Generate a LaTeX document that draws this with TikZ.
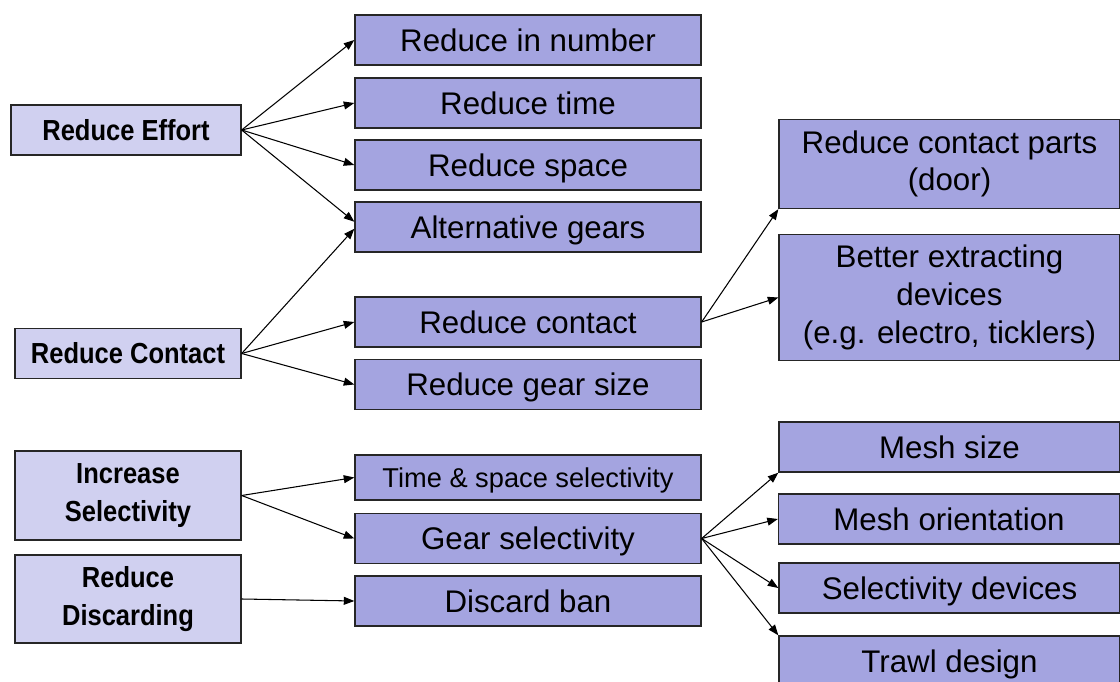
\documentclass[tikz,border=0pt]{standalone}
\usepackage{fontspec}
\setmainfont{Liberation Sans}
\newfontfamily\goalfont[FakeStretch=0.88]{Liberation Sans}
\usetikzlibrary{arrows.meta}
\definecolor{goalfill}{RGB}{208,208,240}
\definecolor{measurefill}{RGB}{164,164,224}
\tikzset{
  goal/.style={draw=black!85, line width=0.8pt, fill=goalfill, inner sep=0pt,
    minimum width=4.52cm, minimum height=1cm, align=center,
    text height=11.8pt, text depth=0pt,
    font=\goalfont\fontsize{16.5}{21.5}\selectfont\bfseries},
  measure/.style={draw=black!85, line width=0.8pt, fill=measurefill, inner sep=0pt,
    minimum width=6.92cm, minimum height=1cm, align=center,
    text height=12.7pt, text depth=0pt,
    font=\fontsize{17.8}{21.5}\selectfont},
  detail/.style={measure, minimum width=6.82cm},
  multiline/.style={text height={}, text depth={}},
  link/.style={-{Triangle[length=6pt,width=4.5pt]}, line width=0.6pt}
}
\begin{document}
\begin{tikzpicture}[x=0.02cm, y=-0.02cm]
\useasboundingbox (0,0) rectangle (1120,682);

\node[goal, minimum width=4.6cm] (effort) at (126,130) {Reduce Effort};
\node[goal] (contact) at (128,353.5) {Reduce Contact};
\node[goal, multiline, minimum height=1.78cm] (incsel) at (128,495.5) {Increase\\Selectivity};
\node[goal, multiline, minimum height=1.76cm] (discard) at (128,599) {Reduce\\Discarding};

\node[measure] (number) at (528,40) {Reduce in number};
\node[measure] (time) at (528,103) {Reduce time};
\node[measure] (space) at (528,165) {Reduce space};
\node[measure] (altgear) at (528,227) {Alternative gears};
\node[measure] (redcon) at (528,322) {Reduce contact};
\node[measure] (gearsize) at (528,384.5) {Reduce gear size};
\node[measure, minimum height=0.9cm, text height=11pt, font=\fontsize{15.5}{19}\selectfont] (tssel) at (528,477.5) {Time \& space selectivity};
\node[measure] (gearsel) at (528,538.5) {Gear selectivity};
\node[measure] (ban) at (528,601) {Discard ban};

\node[detail, multiline, minimum height=1.78cm] (parts) at (949.5,164) {Reduce contact parts\\(door)};
\node[detail, multiline, minimum height=2.52cm] (extract) at (949.5,297.5) {Better extracting\\devices\\(e.g. electro, ticklers)};
\node[detail] (meshsize) at (949.5,447) {Mesh size};
\node[detail] (meshorient) at (949,519) {Mesh orientation};
\node[detail] (seldev) at (949.5,588) {Selectivity devices};
\node[detail] (trawl) at (949.5,661) {Trawl design};

\draw[link] (effort.east) -- (number.west);
\draw[link] (effort.east) -- (time.west);
\draw[link] (effort.east) -- (space.west);
\draw[link] (effort.east) -- ([yshift=3pt]altgear.west);

\draw[link] (contact.east) -- ([yshift=-1pt]altgear.west);
\draw[link] (contact.east) -- (redcon.west);
\draw[link] (contact.east) -- (gearsize.west);

\draw[link] (incsel.east) -- (tssel.west);
\draw[link] (incsel.east) -- (gearsel.west);
\draw[link] (discard.east) -- (ban.west);

\draw[link] (redcon.east) -- (parts.south west);
\draw[link] (redcon.east) -- (extract.west);

\draw[link] (gearsel.east) -- (meshsize.south west);
\draw[link] (gearsel.east) -- (meshorient.west);
\draw[link] (gearsel.east) -- (seldev.west);
\draw[link] (gearsel.east) -- (trawl.north west);
\end{tikzpicture}
\end{document}
